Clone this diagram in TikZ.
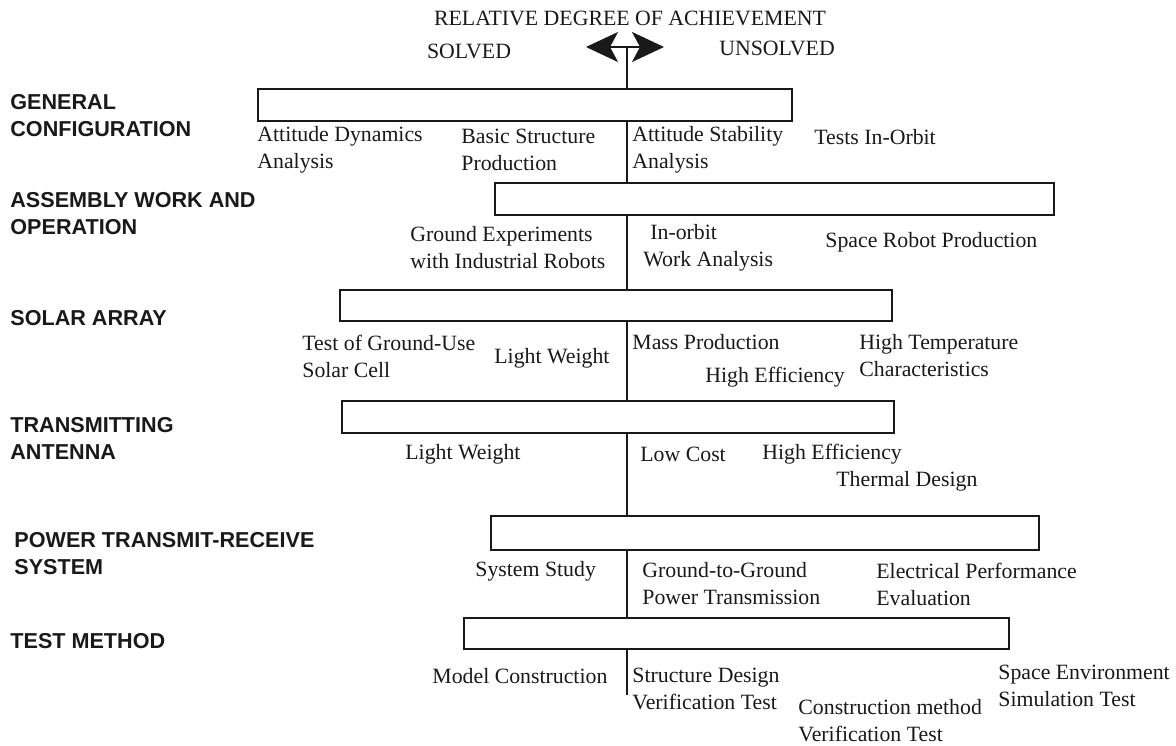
\documentclass[tikz,border=0pt]{standalone}
\usepackage{fontspec}
\setmainfont{Liberation Serif}
\setsansfont{Liberation Sans}
\usetikzlibrary{arrows.meta, positioning}
\definecolor{ink}{RGB}{25,25,25}
\tikzset{
  topic/.style={anchor=west, align=left, inner sep=0pt, text=ink,
    font=\sffamily\bfseries\fontsize{10.8}{13.5}\selectfont},
  item/.style={anchor=west, align=left, inner sep=0pt, text=ink,
    font=\fontsize{10.9}{13.5}\selectfont},
  head/.style={inner sep=0pt, text=ink, font=\fontsize{10.9}{12}\selectfont},
  bar/.style={rectangle, draw=ink, line width=1pt, fill=white,
    anchor=north west, inner sep=0pt},
  stem/.style={draw=ink, line width=1pt},
  bigarrow/.style={draw=ink, line width=1pt,
    {Stealth[length=16pt, width=15pt, inset=4pt]}-{Stealth[length=16pt, width=15pt, inset=4pt]}},
}

\begin{document}
\begin{tikzpicture}[x=0.5pt, y=-0.5pt]
  \useasboundingbox (0,0) rectangle (1176,745);

  % scale at the top
  \node[head] (title)    at (630,18) {RELATIVE DEGREE OF ACHIEVEMENT};
  \node[head] (solved)   at (469,51) {SOLVED};
  \node[head] (unsolved) at (777,48) {UNSOLVED};
  \coordinate (ltip) at (586,47);
  \coordinate (rtip) at (664,47);
  \coordinate (top)  at (627,47);
  \coordinate (bottom) at (627,695);
  \draw[bigarrow] (ltip) -- (rtip);

  % bars
  \node[bar, minimum width=267pt,   minimum height=16pt]   (gc) at (257,88)  {};
  \node[bar, minimum width=279.5pt, minimum height=16pt]   (aw) at (494,182) {};
  \node[bar, minimum width=276pt,   minimum height=15.5pt] (sa) at (339,289) {};
  \node[bar, minimum width=276pt,   minimum height=16pt]   (ta) at (341,400) {};
  \node[bar, minimum width=274pt,   minimum height=17pt]   (pt) at (490,515) {};
  \node[bar, minimum width=272.5pt, minimum height=15.5pt] (tm) at (463,617) {};

  % centre line
  \draw[stem] (top) -- (top |- gc.north);
  \draw[stem] (gc.south -| top) -- (top |- aw.north);
  \draw[stem] (aw.south -| top) -- (top |- sa.north);
  \draw[stem] (sa.south -| top) -- (top |- ta.north);
  \draw[stem] (ta.south -| top) -- (top |- pt.north);
  \draw[stem] (pt.south -| top) -- (top |- tm.north);
  \draw[stem] (tm.south -| top) -- (bottom);

  % topics
  \node[topic] (gcl) at (10,116) {GENERAL\\CONFIGURATION};
  \node[topic] (awl) at (10,214) {ASSEMBLY WORK AND\\OPERATION};
  \node[topic] (sal) at (10,318) {SOLAR ARRAY};
  \node[topic] (tal) at (10,438) {TRANSMITTING\\ANTENNA};
  \node[topic] (ptl) at (14,554) {POWER TRANSMIT-RECEIVE\\SYSTEM};
  \node[topic] (tml) at (10,641) {TEST METHOD};

  % general configuration
  \node[item] at (257,150) {Attitude Dynamics\\Analysis};
  \node[item] at (461,150) {Basic Structure\\Production};
  \node[item] at (632,150) {Attitude Stability\\Analysis};
  \node[item] at (814,137) {Tests In-Orbit};

  % assembly work
  \node[item] at (410,248) {Ground Experiments\\with Industrial Robots};
  \node[item] at (643,248) {\hspace{3.5pt}In-orbit\\Work Analysis};
  \node[item] at (825,242) {Space Robot Production};

  % solar array
  \node[item] at (302,356) {Test of Ground-Use\\Solar Cell};
  \node[item] at (494,358) {Light Weight};
  \node[item] at (632,342) {Mass Production};
  \node[item] at (705,377) {High Efficiency};
  \node[item] at (859,356) {High Temperature\\Characteristics};

  % transmitting antenna
  \node[item] at (405,454) {Light Weight};
  \node[item] at (640,454) {Low Cost};
  \node[item] at (762,454) {High Efficiency};
  \node[item] at (836,481) {Thermal Design};

  % power transmit-receive
  \node[item] at (475,571) {System Study};
  \node[item] at (642,584) {Ground-to-Ground\\Power Transmission};
  \node[item] at (876,584) {Electrical Performance\\Evaluation};

  % test method
  \node[item] at (432,676) {Model Construction};
  \node[item] at (632,689) {Structure Design\\Verification Test};
  \node[item] at (798,721) {Construction method\\Verification Test};
  \node[item] at (998,686) {Space Environment\\Simulation Test};
\end{tikzpicture}
\end{document}
